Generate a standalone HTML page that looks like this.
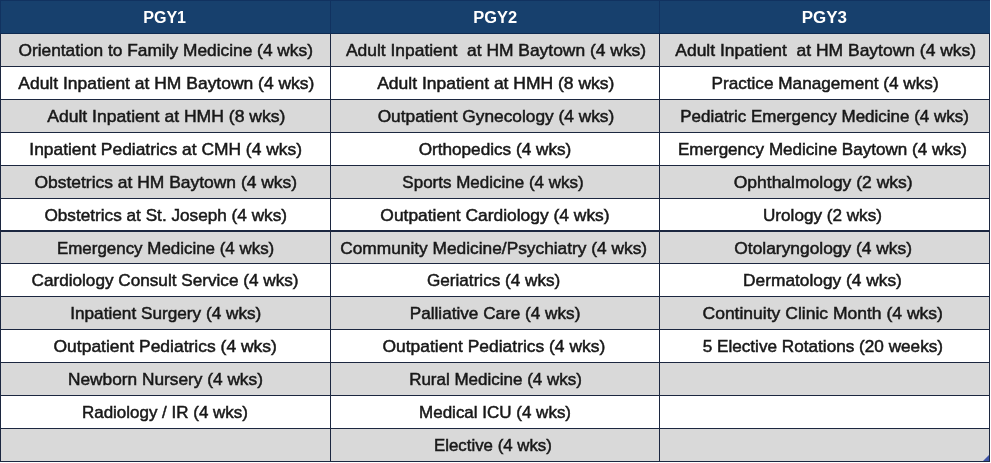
<!DOCTYPE html>
<html lang="en"><head><meta charset="utf-8"><title>Rotation Schedule</title>
<style>
html,body{margin:0;padding:0;background:#fff;}
body{width:991px;height:463px;overflow:hidden;position:relative;font-family:"Liberation Sans",Arial,sans-serif;}
#t{position:absolute;left:0;top:0;width:990px;height:462px;background:#1c2740;overflow:hidden;}
#hb{position:absolute;left:0;top:0;width:990px;height:34px;background:#0e2a50;}
#hs{position:absolute;left:0;top:0;width:990px;height:33px;background:#113260;}
.c{position:absolute;overflow:hidden;}
.h{background:#17406d;}
.g{background:#d9d9d9;}
.w{background:#fff;}
.x{position:absolute;top:0;height:100%;white-space:pre;display:block;text-align:center;transform-origin:50% 50%;color:#181818;font-size:17.0px;-webkit-text-stroke:0.5px #181818;}
.h .x{color:#fff;font-weight:bold;font-size:16.0px;-webkit-text-stroke:0;}
#rz{position:absolute;left:983px;top:455px;width:0;height:0;border-left:6px solid transparent;border-bottom:6px solid #3f55a8;}

</style></head><body>
<div id="t">
<div id="hb"></div><div id="hs"></div>
<div class="c h" style="left:1px;top:1px;width:329px;height:32px"><span class="x" style="left:-36px;width:400px;line-height:33.40px;transform:translateX(-0.38px) scaleX(1.0036)">PGY1</span></div>
<div class="c h" style="left:331px;top:1px;width:328px;height:32px"><span class="x" style="left:-36px;width:400px;line-height:33.40px;transform:translateX(0.20px) scaleX(1.0268)">PGY2</span></div>
<div class="c h" style="left:660px;top:1px;width:330px;height:32px"><span class="x" style="left:-36px;width:400px;line-height:33.40px;transform:translateX(0.40px) scaleX(1.0585)">PGY3</span></div>
<div class="c g" style="left:1px;top:34px;width:329px;height:32px"><span class="x" style="left:-35px;width:400px;line-height:34.00px;transform:translateX(-0.32px) scaleX(1.0186)">Orientation to Family Medicine (4 wks)</span></div>
<div class="c g" style="left:331px;top:34px;width:328px;height:32px"><span class="x" style="left:-35px;width:400px;line-height:34.00px;transform:translateX(0.03px) scaleX(1.0248)">Adult Inpatient  at HM Baytown (4 wks)</span></div>
<div class="c g" style="left:660px;top:34px;width:329px;height:32px"><span class="x" style="left:-34px;width:400px;line-height:34.00px;transform:translateX(-0.32px) scaleX(1.0269)">Adult Inpatient  at HM Baytown (4 wks)</span></div>
<div class="c w" style="left:1px;top:67px;width:329px;height:32px"><span class="x" style="left:-35px;width:400px;line-height:34.00px;transform:translateX(0.35px) scaleX(1.0275)">Adult Inpatient at HM Baytown (4 wks)</span></div>
<div class="c w" style="left:331px;top:67px;width:328px;height:32px"><span class="x" style="left:-35px;width:400px;line-height:34.00px;transform:translateX(-0.20px) scaleX(1.0291)">Adult Inpatient at HMH (8 wks)</span></div>
<div class="c w" style="left:660px;top:67px;width:329px;height:32px"><span class="x" style="left:-35px;width:400px;line-height:34.00px;transform:translateX(0.05px) scaleX(1.0103)">Practice Management (4 wks)</span></div>
<div class="c g" style="left:1px;top:100px;width:329px;height:32px"><span class="x" style="left:-35px;width:400px;line-height:34.00px;transform:translateX(0.30px) scaleX(1.0335)">Adult Inpatient at HMH (8 wks)</span></div>
<div class="c g" style="left:331px;top:100px;width:328px;height:32px"><span class="x" style="left:-35px;width:400px;line-height:34.00px;transform:translateX(-0.02px) scaleX(1.0179)">Outpatient Gynecology (4 wks)</span></div>
<div class="c g" style="left:660px;top:100px;width:329px;height:32px"><span class="x" style="left:-35px;width:400px;line-height:34.00px;transform:translateX(-0.45px) scaleX(0.9983)">Pediatric Emergency Medicine (4 wks)</span></div>
<div class="c w" style="left:1px;top:133px;width:329px;height:32px"><span class="x" style="left:-35px;width:400px;line-height:34.00px;transform:translateX(-0.38px) scaleX(1.0233)">Inpatient Pediatrics at CMH (4 wks)</span></div>
<div class="c w" style="left:331px;top:133px;width:328px;height:32px"><span class="x" style="left:-36px;width:400px;line-height:34.00px;transform:translateX(-0.03px) scaleX(1.0097)">Orthopedics (4 wks)</span></div>
<div class="c w" style="left:660px;top:133px;width:329px;height:32px"><span class="x" style="left:-38px;width:400px;line-height:34.00px;transform:translateX(0.43px) scaleX(1.0030)">Emergency Medicine Baytown (4 wks)</span></div>
<div class="c g" style="left:1px;top:166px;width:329px;height:32px"><span class="x" style="left:-35px;width:400px;line-height:34.00px;transform:translateX(-0.20px) scaleX(1.0259)">Obstetrics at HM Baytown (4 wks)</span></div>
<div class="c g" style="left:331px;top:166px;width:328px;height:32px"><span class="x" style="left:-38px;width:400px;line-height:34.00px;transform:translateX(0.00px) scaleX(0.9994)">Sports Medicine (4 wks)</span></div>
<div class="c g" style="left:660px;top:166px;width:329px;height:32px"><span class="x" style="left:-37px;width:400px;line-height:34.00px;transform:translateX(0.15px) scaleX(1.0290)">Ophthalmology (2 wks)</span></div>
<div class="c w" style="left:1px;top:199px;width:329px;height:31px"><span class="x" style="left:-35px;width:400px;line-height:33.00px;transform:translateX(-0.30px) scaleX(1.0105)">Obstetrics at St. Joseph (4 wks)</span></div>
<div class="c w" style="left:331px;top:199px;width:328px;height:31px"><span class="x" style="left:-36px;width:400px;line-height:33.00px;transform:translateX(-0.03px) scaleX(1.0236)">Outpatient Cardiology (4 wks)</span></div>
<div class="c w" style="left:660px;top:199px;width:329px;height:31px"><span class="x" style="left:-38px;width:400px;line-height:33.00px;transform:translateX(0.45px) scaleX(1.0069)">Urology (2 wks)</span></div>
<div class="c g" style="left:1px;top:232px;width:329px;height:31px"><span class="x" style="left:-35px;width:400px;line-height:33.00px;transform:translateX(-0.38px) scaleX(0.9956)">Emergency Medicine (4 wks)</span></div>
<div class="c g" style="left:331px;top:232px;width:328px;height:31px"><span class="x" style="left:-37px;width:400px;line-height:33.00px;transform:translateX(-0.35px) scaleX(1.0183)">Community Medicine/Psychiatry (4 wks)</span></div>
<div class="c g" style="left:660px;top:232px;width:329px;height:31px"><span class="x" style="left:-37px;width:400px;line-height:33.00px;transform:translateX(0.15px) scaleX(1.0220)">Otolaryngology (4 wks)</span></div>
<div class="c w" style="left:1px;top:264px;width:329px;height:32px"><span class="x" style="left:-36px;width:400px;line-height:34.00px;transform:translateX(0.03px) scaleX(1.0093)">Cardiology Consult Service (4 wks)</span></div>
<div class="c w" style="left:331px;top:264px;width:328px;height:32px"><span class="x" style="left:-37px;width:400px;line-height:34.00px;transform:translateX(-0.38px) scaleX(1.0080)">Geriatrics (4 wks)</span></div>
<div class="c w" style="left:660px;top:264px;width:329px;height:32px"><span class="x" style="left:-38px;width:400px;line-height:34.00px;transform:translateX(0.45px) scaleX(1.0182)">Dermatology (4 wks)</span></div>
<div class="c g" style="left:1px;top:297px;width:329px;height:32px"><span class="x" style="left:-35px;width:400px;line-height:34.00px;transform:translateX(-0.23px) scaleX(1.0115)">Inpatient Surgery (4 wks)</span></div>
<div class="c g" style="left:331px;top:297px;width:328px;height:32px"><span class="x" style="left:-36px;width:400px;line-height:34.00px;transform:translateX(0.05px) scaleX(1.0090)">Palliative Care (4 wks)</span></div>
<div class="c g" style="left:660px;top:297px;width:329px;height:32px"><span class="x" style="left:-37px;width:400px;line-height:34.00px;transform:translateX(-0.30px) scaleX(1.0302)">Continuity Clinic Month (4 wks)</span></div>
<div class="c w" style="left:1px;top:330px;width:329px;height:32px"><span class="x" style="left:-36px;width:400px;line-height:34.00px;transform:translateX(0.20px) scaleX(1.0278)">Outpatient Pediatrics (4 wks)</span></div>
<div class="c w" style="left:331px;top:330px;width:328px;height:32px"><span class="x" style="left:-37px;width:400px;line-height:34.00px;transform:translateX(-0.15px) scaleX(1.0250)">Outpatient Pediatrics (4 wks)</span></div>
<div class="c w" style="left:660px;top:330px;width:329px;height:32px"><span class="x" style="left:-37px;width:400px;line-height:34.00px;transform:translateX(-0.17px) scaleX(1.0095)">5 Elective Rotations (20 weeks)</span></div>
<div class="c g" style="left:1px;top:363px;width:329px;height:32px"><span class="x" style="left:-36px;width:400px;line-height:34.00px;transform:translateX(0.43px) scaleX(1.0166)">Newborn Nursery (4 wks)</span></div>
<div class="c g" style="left:331px;top:363px;width:328px;height:32px"><span class="x" style="left:-35px;width:400px;line-height:34.00px;transform:translateX(-0.45px) scaleX(0.9994)">Rural Medicine (4 wks)</span></div>
<div class="c g" style="left:660px;top:363px;width:329px;height:32px"></div>
<div class="c w" style="left:1px;top:396px;width:329px;height:32px"><span class="x" style="left:-36px;width:400px;line-height:34.00px;transform:translateX(-0.07px) scaleX(0.9979)">Radiology / IR (4 wks)</span></div>
<div class="c w" style="left:331px;top:396px;width:328px;height:32px"><span class="x" style="left:-36px;width:400px;line-height:34.00px;transform:translateX(0.05px) scaleX(0.9993)">Medical ICU (4 wks)</span></div>
<div class="c w" style="left:660px;top:396px;width:329px;height:32px"></div>
<div class="c g" style="left:1px;top:429px;width:329px;height:32px"></div>
<div class="c g" style="left:331px;top:429px;width:328px;height:32px"><span class="x" style="left:-38px;width:400px;line-height:34.00px;transform:translateX(-0.05px) scaleX(0.9897)">Elective (4 wks)</span></div>
<div class="c g" style="left:660px;top:429px;width:329px;height:32px"></div>
<div id="rz"></div>
</div></body></html>
